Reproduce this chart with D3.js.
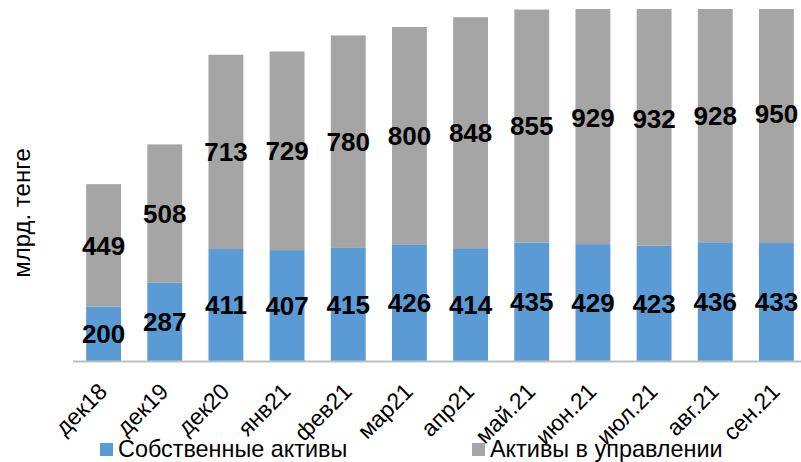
<!DOCTYPE html>
<html>
<head>
<meta charset="utf-8">
<script src="https://cdn.jsdelivr.net/npm/d3@7"></script>
<style>
	body { margin: 0; background: #fff; }
	svg { display: block; font-family: Arial, "Liberation Sans", sans-serif; }
</style>
</head>
<body>
<script>

// Data

var
	months = ['дек18', 'дек19', 'дек20', 'янв21', 'фев21', 'мар21', 'апр21', 'май.21', 'июн.21', 'июл.21', 'авг.21', 'сен.21'],
	ownAssets = [200, 287, 411, 407, 415, 426, 414, 435, 429, 423, 436, 433],
	managedAssets = [449, 508, 713, 729, 780, 800, 848, 855, 929, 932, 928, 950],
	seriesNames = ['Собственные активы', 'Активы в управлении'],
	colors = ['#5b9bd5', '#a5a5a5'];

var
	width = 801,
	height = 462,
	plotTop = 9,
	plotBottom = 361,

	svg = d3.select('body').append('svg')
		.attr('width', width)
		.attr('height', height),

	x = d3.scaleBand()
		.domain(months)
		.range([73, 807])
		.paddingInner(0.43)
		.paddingOuter(0.215),

	y = d3.scaleLinear()
		.domain([0, 1292])
		.range([plotBottom, plotTop]);

svg.append('clipPath')
	.attr('id', 'plotclip')
	.append('rect')
	.attr('x', 0)
	.attr('y', plotTop)
	.attr('width', width)
	.attr('height', plotBottom - plotTop);

// Bars

var rows = months.map(function(m, i) {
	return {month: m, own: ownAssets[i], managed: managedAssets[i]};
});

var stack = d3.stack().keys(['own', 'managed'])(rows);

var layers = svg.append('g')
	.attr('clip-path', 'url(#plotclip)')
	.selectAll('g')
	.data(stack)
	.enter()
	.append('g')
	.style('fill', function(d, i) {return colors[i];});

layers.selectAll('rect')
	.data(function(d) {return d;})
	.enter()
	.append('rect')
	.attr('x', function(d) {return x(d.data.month);})
	.attr('width', x.bandwidth())
	.attr('y', function(d) {return y(d[1]);})
	.attr('height', function(d) {return y(d[0]) - y(d[1]);});

// Axis line

svg.append('line')
	.attr('x1', 73)
	.attr('x2', width)
	.attr('y1', plotBottom + 0.5)
	.attr('y2', plotBottom + 0.5)
	.style('stroke', '#bfbfbf')
	.style('stroke-width', 2);

// Value labels

stack.forEach(function(layer) {
	svg.append('g').selectAll('text')
		.data(layer)
		.enter()
		.append('text')
		.attr('x', function(d) {return x(d.data.month) + x.bandwidth() / 2;})
		.attr('y', function(d) {return (y(d[0]) + y(d[1])) / 2;})
		.attr('text-anchor', 'middle')
		.attr('dy', '0.36em')
		.style('font-size', '26px')
		.style('font-weight', 'bold')
		.style('fill', '#000')
		.text(function(d) {return d[1] - d[0];});
});

// Category labels

svg.append('g').selectAll('text')
	.data(months)
	.enter()
	.append('text')
	.attr('transform', function(d) {
		return 'translate(' + (x(d) + x.bandwidth() / 2 + 5) + ',' + 393 + ') rotate(-45)';
	})
	.attr('text-anchor', 'end')
	.style('font-size', '23px')
	.style('fill', '#000')
	.text(function(d) {return d;});

// Axis title

svg.append('text')
	.attr('transform', 'translate(30,213) rotate(-90)')
	.attr('text-anchor', 'middle')
	.style('font-size', '24px')
	.style('fill', '#000')
	.text('млрд. тенге');

// Legend

var legendX = [100, 472];

var legend = svg.append('g').selectAll('g')
	.data(seriesNames)
	.enter()
	.append('g')
	.attr('transform', function(d, i) {return 'translate(' + legendX[i] + ',443)';});

legend.append('rect')
	.attr('width', 13)
	.attr('height', 13)
	.style('fill', function(d, i) {return colors[i];});

legend.append('text')
	.attr('x', 18)
	.attr('y', 14)
	.style('font-size', '23.4px')
	.style('fill', '#000')
	.text(function(d) {return d;});

</script>
</body>
</html>
